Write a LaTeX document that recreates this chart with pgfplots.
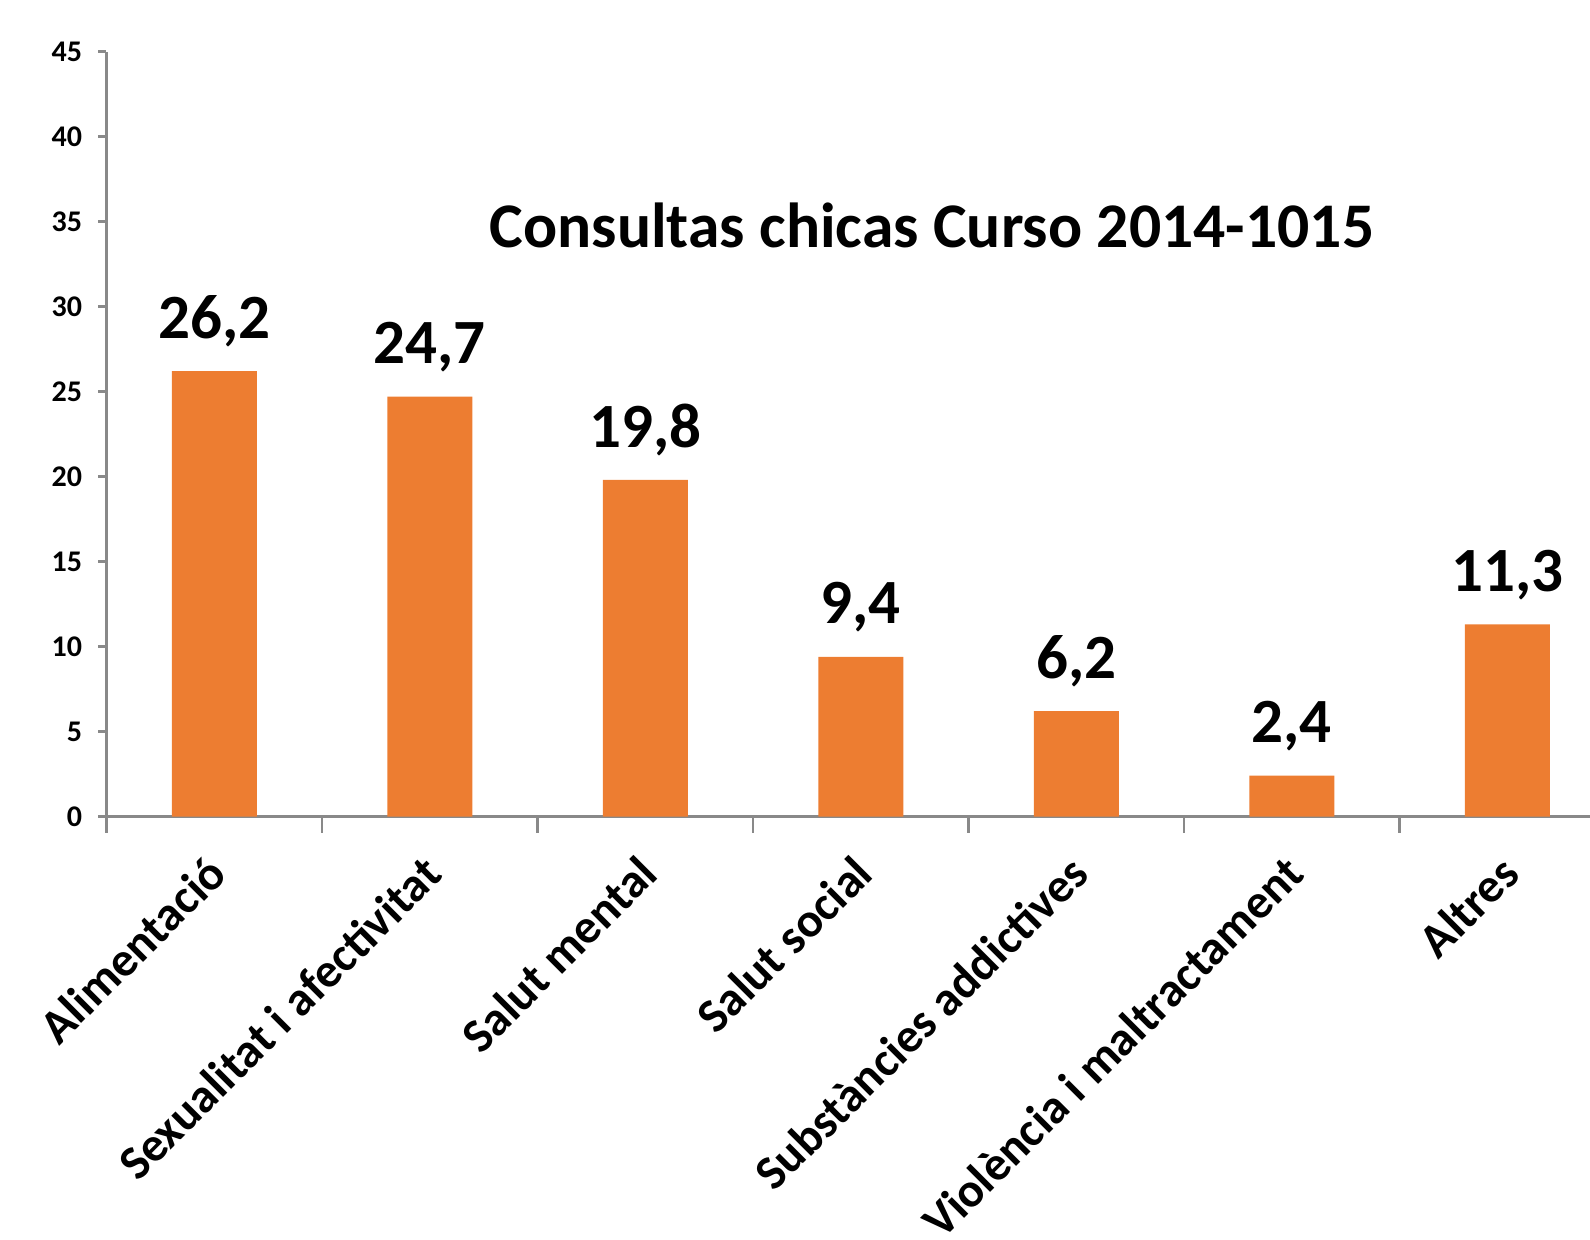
\documentclass[border=0pt]{standalone}
\usepackage{pgfplots}
\pgfplotsset{compat=1.18}
\usepackage{fontspec}
\setmainfont{Carlito}
\definecolor{barorange}{HTML}{ED7D31}
\definecolor{axgray}{HTML}{898989}
\begin{document}
\begin{tikzpicture}
\useasboundingbox (-53.25pt,-211.25pt) rectangle (741.75pt,408.25pt);
\clip (-53.25pt,-211.25pt) rectangle (741.75pt,408.25pt);
\begin{axis}[
  at={(0,0)}, anchor=south west,
  scale only axis,
  width=754.25pt, height=382.4pt,
  xmin=-0.5, xmax=6.5, ymin=0, ymax=45,
  axis x line*=bottom, axis y line*=left,
  axis line style={axgray, line width=1.3pt},
  clip=false,
  ytick={0,5,...,45},
  tick align=outside,
  major tick length=4pt,
  minor tick length=8pt,
  tick style={axgray, line width=1.3pt},
  xtick={0,...,6},
  major x tick style={draw=none},
  minor xtick={-0.5,0.5,1.5,2.5,3.5,4.5,5.5,6.5},
  minor x tick style={draw=axgray, line width=1.3pt},
  xticklabels={Alimentació, Sexualitat i afectivitat, Salut mental, Salut social, Substàncies addictives, Violència i maltractament, Altres},
  xticklabel style={font=\fontsize{24.1}{28}\selectfont\bfseries, rotate=45, anchor=north east, inner sep=0pt, xshift=-13.2pt, yshift=-6.5pt},
  yticklabel style={font=\fontsize{15}{17}\selectfont\bfseries, inner sep=0pt, xshift=-8pt},
  /pgf/number format/assume math mode=true,
  ybar, bar width=42.5pt,
  nodes near coords,
  nodes near coords style={font=\fontsize{31.5}{35}\selectfont\bfseries,
    /pgf/number format/fixed, /pgf/number format/fixed zerofill,
    /pgf/number format/precision=1, /pgf/number format/use comma,
    /pgf/number format/assume math mode=true},
  every node near coord/.append style={anchor=south, inner sep=0pt, yshift=12pt},
]
\addplot[fill=barorange, draw=none] coordinates {(0,26.2) (1,24.7) (2,19.8) (3,9.4) (4,6.2) (5,2.4) (6,11.3)};
\node[font=\fontsize{31.8}{36}\selectfont\bfseries] at (axis cs:3.33,34.8) {Consultas chicas Curso 2014-1015};
\end{axis}
\end{tikzpicture}
\end{document}
